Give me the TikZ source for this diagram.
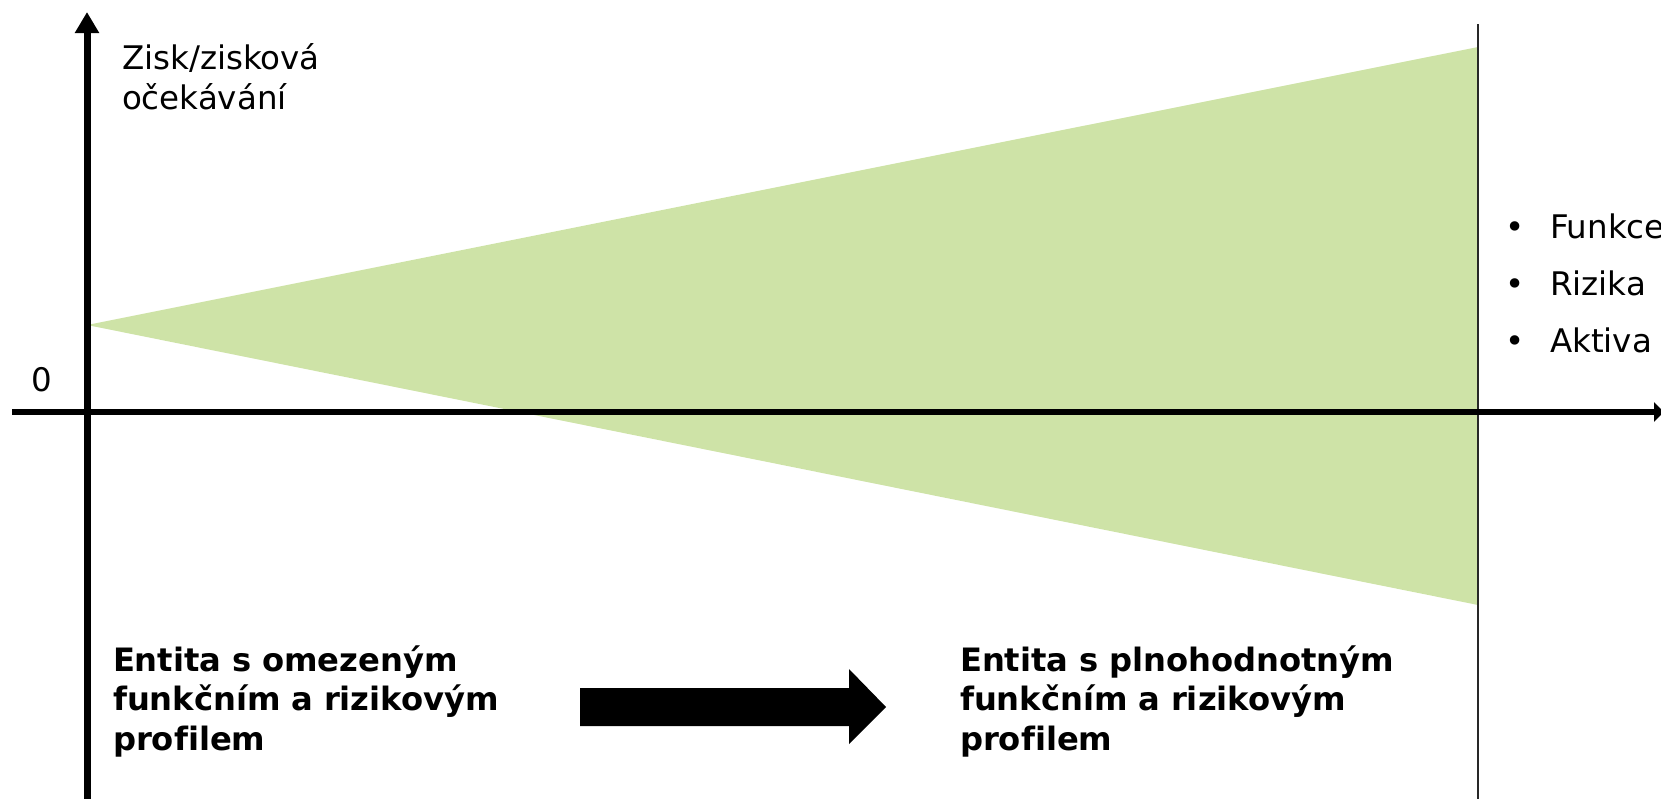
\documentclass[tikz,border=0pt]{standalone}
\usepackage{fontspec}
\setmainfont[Ligatures=NoCommon]{DejaVu Sans}
\usetikzlibrary{arrows.meta}
\definecolor{conegreen}{RGB}{206,227,167}
\definecolor{edgegray}{RGB}{40,40,40}
\tikzset{
  axisline/.style={line width=7pt},
  plain/.style={inner sep=0pt, outer sep=0pt, font=\fontsize{32.5}{40}\selectfont},
  boldtext/.style={inner sep=0pt, outer sep=0pt, align=left, text width=520pt, font=\fontsize{32.2}{39.5}\selectfont\bfseries},
  bullettext/.style={inner sep=0pt, outer sep=0pt, font=\fontsize{32.5}{40}\selectfont},
  blockarrow/.style={fill=black, draw=none},
}
\begin{document}
\begin{tikzpicture}[x=1pt,y=-1pt]
\useasboundingbox (0,0) rectangle (1661,798);
% coordinates
\coordinate (apex) at (87,325);
\coordinate (topR) at (1478,47);
\coordinate (botR) at (1478,605);
\coordinate (vlTop) at (1478,24);
\coordinate (vlBot) at (1478,800);
\coordinate (yBot) at (87,800);
\coordinate (yTop) at (87,12);
\coordinate (xLeft) at (12,412);
\coordinate (xRight) at (1664,412);
% green cone
\fill[conegreen] (apex) -- (topR) -- (botR) -- cycle;
% vertical boundary line
\draw[edgegray, line width=2pt] (vlTop) -- (vlBot);
% axes
\draw[axisline, -{Triangle[length=21pt,width=23pt]}] (yBot) -- (yTop);
\draw[line width=6pt, -{Triangle[length=10pt,width=19pt]}] (xLeft) -- (xRight);
% labels
\node[plain, anchor=base west, align=left, text width=260pt] (ylabel) at (122,69) {Zisk/zisková\\očekávání};
\node[plain, anchor=base west] (zero) at (31,391) {0};
% bullets
\node[bullettext, anchor=base] (b1) at (1515,238) {•};
\node[bullettext, anchor=base west] (funkce) at (1550,238) {Funkce};
\node[bullettext, anchor=base] (b2) at (1515,295) {•};
\node[bullettext, anchor=base west] (rizika) at (1550,295) {Rizika};
\node[bullettext, anchor=base] (b3) at (1515,352) {•};
\node[bullettext, anchor=base west] (aktiva) at (1550,352) {Aktiva};
% bottom texts
\node[boldtext, anchor=base west] (limited) at (113,671) {Entita s omezeným\\funkčním a rizikovým\\profilem};
\node[boldtext, anchor=base west] (full) at (960,671) {Entita s plnohodnotným\\funkčním a rizikovým\\profilem};
% block arrow
\fill[blockarrow] (580,688) -- (849,688) -- (849,669) -- (886,707) -- (849,744) -- (849,726) -- (580,726) -- cycle;
\end{tikzpicture}
\end{document}
